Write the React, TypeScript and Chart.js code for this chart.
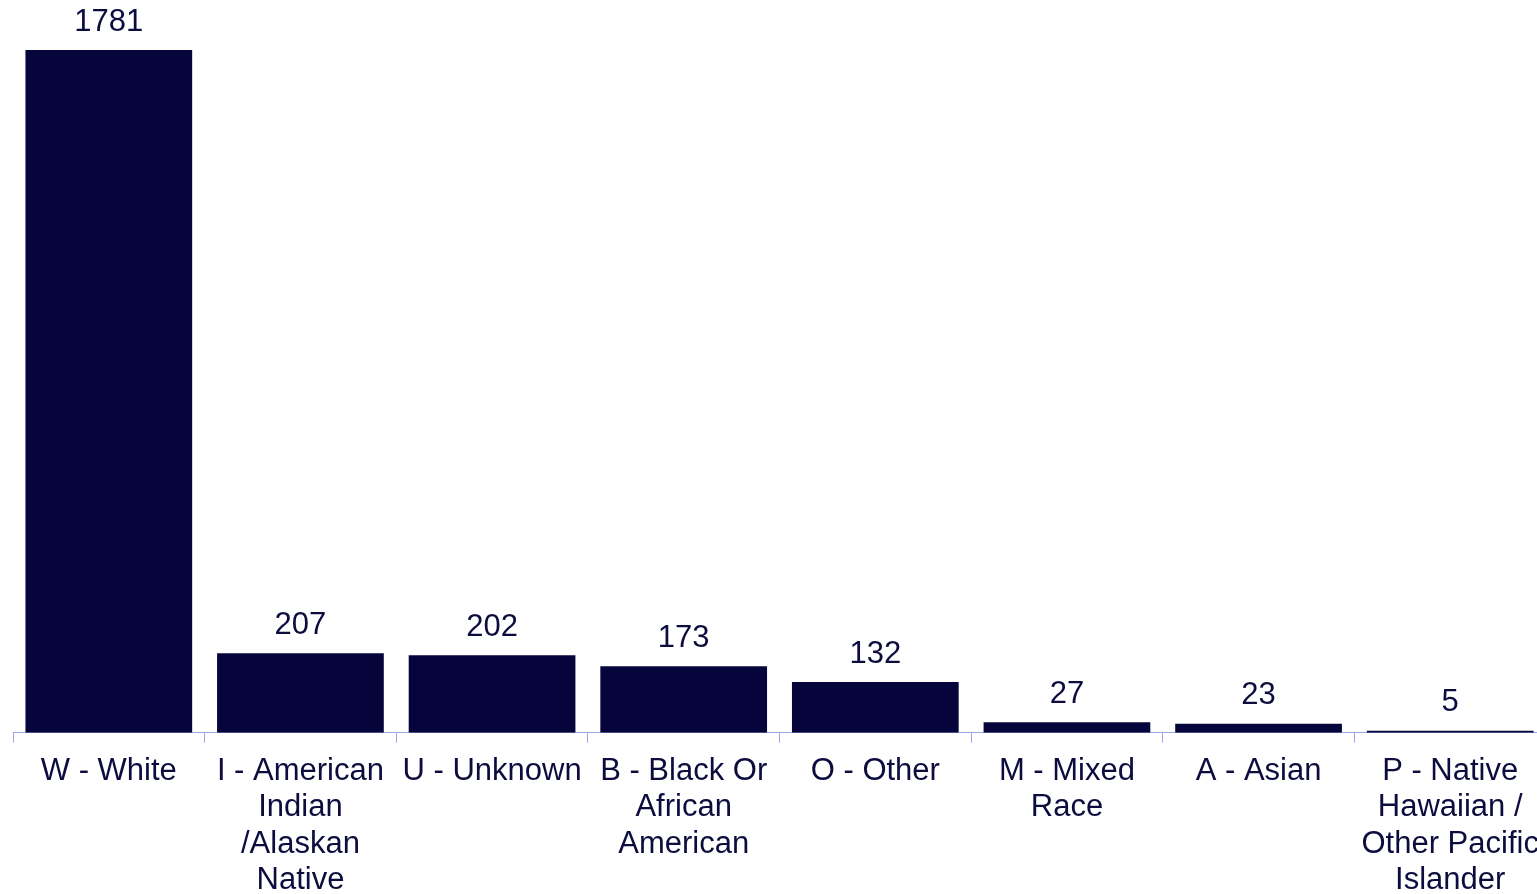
import React, { useEffect, useRef } from "react";
import { Chart, registerables } from "chart.js";

Chart.register(...registerables);

const categories: string[][] = [
  ["W - White"],
  ["I - American", "Indian", "/Alaskan", "Native"],
  ["U - Unknown"],
  ["B - Black Or", "African", "American"],
  ["O - Other"],
  ["M - Mixed", "Race"],
  ["A - Asian"],
  ["P - Native", "Hawaiian /", "Other Pacific", "Islander"],
];
const counts: number[] = [1781, 207, 202, 173, 132, 27, 23, 5];

const BAR_COLOR = "#05053b";
const TEXT_COLOR = "#0c0c3e";
const AXIS_COLOR = "#9fa3ea";
const FONT_FAMILY = "'Liberation Sans', Arial, Helvetica, sans-serif";

const valueLabels = {
  id: "valueLabels",
  afterDatasetsDraw(chart: any) {
    const ctx = chart.ctx;
    const meta = chart.getDatasetMeta(0);
    ctx.save();
    ctx.font = `31px ${FONT_FAMILY}`;
    ctx.fillStyle = TEXT_COLOR;
    ctx.textAlign = "center";
    ctx.textBaseline = "middle";
    meta.data.forEach((bar: any, i: number) => {
      const v = chart.data.datasets[0].data[i];
      ctx.fillText(String(v), bar.x, bar.y - 28);
    });
    ctx.restore();
  },
};

export default function App() {
  const ref = useRef<HTMLCanvasElement | null>(null);

  useEffect(() => {
    if (!ref.current) return;
    const chart = new Chart(ref.current, {
      type: "bar",
      data: {
        labels: categories,
        datasets: [
          {
            data: counts,
            backgroundColor: BAR_COLOR,
            borderWidth: 0,
            barPercentage: 0.87,
            categoryPercentage: 1,
          },
        ],
      },
      options: {
        responsive: false,
        animation: false,
        layout: { padding: { top: 50, left: 13, right: 14, bottom: 0 } },
        plugins: {
          legend: { display: false },
          tooltip: { enabled: false },
          title: { display: false },
        },
        scales: {
          x: {
            grid: {
              display: true,
              drawOnChartArea: false,
              drawTicks: true,
              tickLength: 10,
              color: AXIS_COLOR,
              offset: true,
            },
            border: { display: true, color: AXIS_COLOR, width: 1 },
            ticks: {
              color: TEXT_COLOR,
              padding: 10,
              maxRotation: 0,
              minRotation: 0,
              autoSkip: false,
              font: { family: FONT_FAMILY, size: 31, lineHeight: 1.18 },
            },
          },
          y: {
            display: false,
            min: 0,
            max: 1781,
          },
        },
      },
      plugins: [valueLabels],
    });
    return () => chart.destroy();
  }, []);

  return (
    <div
      style={{
        position: "fixed",
        left: 0,
        top: 0,
        width: 1537,
        height: 894,
        overflow: "hidden",
        background: "#ffffff",
      }}
    >
      <canvas
        ref={ref}
        width={1560}
        height={909}
        style={{ display: "block", width: 1560, height: 909 }}
      />
    </div>
  );
}
